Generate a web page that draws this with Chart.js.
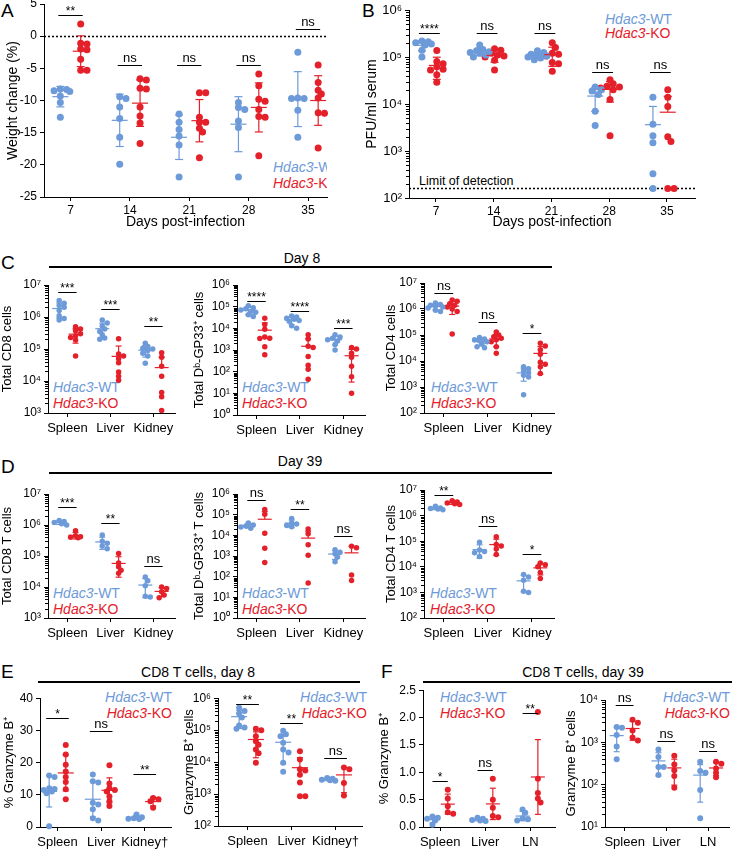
<!DOCTYPE html>
<html>
<head>
<meta charset="utf-8">
<script src="https://cdn.jsdelivr.net/npm/chart.js@4.4.1/dist/chart.umd.min.js"></script>
<style>
body{margin:0;width:732px;height:849px;position:relative;overflow:hidden;background:#fff;font-family:"Liberation Sans",Arial,sans-serif;color:#000}
canvas{position:absolute}
.t{position:absolute;white-space:nowrap;font-size:14px;line-height:16px}
.c{transform:translateX(-50%)}
.r{transform:translateX(-100%)}
.L{position:absolute;font-size:19px;line-height:20px}
.hr{position:absolute;height:0;border-top:2px solid #000}
.wt{color:#6d9ad8}.ko{color:#e4202a}
</style>
</head>
<body>
<div class="L" style="left:1px;top:1px">A</div>
<div class="L" style="left:362px;top:1px">B</div>
<div class="L" style="left:1px;top:253px">C</div>
<div class="L" style="left:1px;top:457px">D</div>
<div class="L" style="left:1px;top:662px">E</div>
<div class="L" style="left:381px;top:662px">F</div>

<div class="t c" style="left:302px;top:250px">Day 8</div>
<div class="hr" style="left:49px;width:503px;top:266px"></div>
<div class="t c" style="left:300px;top:453px">Day 39</div>
<div class="hr" style="left:49px;width:503px;top:472px"></div>
<div class="t c" style="left:198px;top:664px">CD8 T cells, day 8</div>
<div class="hr" style="left:38px;width:322px;top:681px"></div>
<div class="t c" style="left:583px;top:664px">CD8 T cells, day 39</div>
<div class="hr" style="left:423px;width:309px;top:681px"></div>

<div class="t" style="left:419px;top:173px;font-size:12.5px">Limit of detection</div>

<!-- legends -->
<div style="position:absolute;left:273px;top:159px;width:54px;height:34px;overflow:hidden">
  <div class="t wt" style="left:0;top:0"><i>Hdac3</i>-WT</div>
  <div class="t ko" style="left:0;top:16px"><i>Hdac3</i>-KO</div>
</div>
<div class="t wt" style="left:605px;top:12px;line-height:14px"><i>Hdac3</i>-WT</div>
<div class="t ko" style="left:605px;top:26px;line-height:14px"><i>Hdac3</i>-KO</div>

<div class="t wt" style="left:53px;top:379px"><i>Hdac3</i>-WT</div>
<div class="t ko" style="left:53px;top:395px"><i>Hdac3</i>-KO</div>
<div class="t wt" style="left:242px;top:379px"><i>Hdac3</i>-WT</div>
<div class="t ko" style="left:242px;top:395px"><i>Hdac3</i>-KO</div>
<div class="t wt" style="left:431px;top:379px"><i>Hdac3</i>-WT</div>
<div class="t ko" style="left:431px;top:395px"><i>Hdac3</i>-KO</div>

<div class="t wt" style="left:53px;top:585px"><i>Hdac3</i>-WT</div>
<div class="t ko" style="left:53px;top:601px"><i>Hdac3</i>-KO</div>
<div class="t wt" style="left:242px;top:585px"><i>Hdac3</i>-WT</div>
<div class="t ko" style="left:242px;top:601px"><i>Hdac3</i>-KO</div>
<div class="t wt" style="left:430px;top:585px"><i>Hdac3</i>-WT</div>
<div class="t ko" style="left:430px;top:601px"><i>Hdac3</i>-KO</div>

<div class="t wt r" style="left:172px;top:689px"><i>Hdac3</i>-WT</div>
<div class="t ko r" style="left:172px;top:705px"><i>Hdac3</i>-KO</div>
<div class="t wt r" style="left:367px;top:689px"><i>Hdac3</i>-WT</div>
<div class="t ko r" style="left:367px;top:705px"><i>Hdac3</i>-KO</div>
<div class="t wt" style="left:440px;top:689px"><i>Hdac3</i>-WT</div>
<div class="t ko" style="left:440px;top:705px"><i>Hdac3</i>-KO</div>
<div class="t wt r" style="left:730px;top:689px"><i>Hdac3</i>-WT</div>
<div class="t ko r" style="left:730px;top:705px"><i>Hdac3</i>-KO</div>

<script>
const WT_COLOR='#6d9ad8', KO_COLOR='#e4202a';

// A - weight change
const daysA=[7,14,21,28,35];
const weightWT=[
  [-8.2,-8.3,-8.5,-8.6,-9.3,-10.3,-12.6],
  [-9.4,-9.7,-11.0,-12.8,-15.7,-19.9],
  [-12.1,-13.4,-14.5,-15.5,-16.9,-21.9],
  [-10.3,-11.1,-11.4,-13.2,-14.2,-21.9],
  [-2.5,-9.6,-9.7,-9.7,-11.5,-15.7]
];
const weightKO=[
  [1.9,-1.1,-1.2,-2.0,-2.1,-3.6,-5.3,-5.3],
  [-6.6,-6.8,-8.1,-8.2,-11.0,-12.4,-13.5,-16.7],
  [-8.8,-8.8,-12.6,-13.4,-13.4,-14.3,-14.9,-18.9],
  [-5.9,-7.7,-9.8,-10.1,-11.4,-12.5,-12.6,-18.6],
  [-4.5,-7.2,-8.4,-9.0,-9.6,-11.9,-12.0,-17.4]
];
const sigA=["**","ns","ns","ns","ns"];
const sigAy=[3.3,-4.5,-4.5,-4.5,1.1];

// B - serum virus
const pfuWT=[
  [2.2e5,2.1e5,2.0e5,1.9e5,1.8e5,1.4e5,1.0e5],
  [1.8e5,1.45e5,1.35e5,1.3e5,1.25e5,1.2e5,1.1e5,1.0e5],
  [1.35e5,1.25e5,1.15e5,1.1e5,1.05e5,1.0e5,9.5e4,8.7e4],
  [2.3e4,2.0e4,1.9e4,1.6e4,7e3,3.5e3],
  [1.4e4,3.7e3,2.1e3,1.5e3,330,160]
];
const pfuKO=[
  [1.37e5,8e4,7.2e4,6.2e4,5.5e4,5.3e4,4.2e4,2.9e4],
  [1.5e5,1.4e5,1.2e5,1.1e5,1.05e5,1.0e5,8.5e4,5.3e4],
  [2.0e5,1.6e5,1.2e5,1.15e5,1.05e5,7.6e4,7.2e4,5.0e4],
  [3.3e4,2.7e4,2.4e4,2.3e4,2.2e4,2.0e4,1.25e4,2.1e3],
  [2.0e4,1.4e4,8.9e3,2.0e3,1.6e3,160,160]
];
const limitOfDetection=160;
const sigB=["****","ns","ns","ns","ns"];
const sigBy=[3.2e5,3.2e5,3.2e5,4.8e4,4.8e4];

// C - day 8
const organs=["Spleen","Liver","Kidney"];
const cd8D8WT=[[3.3e6,2.7e6,2.3e6,2.0e6,1.6e6,1.1e6,9e5,8e5],[8e5,6.5e5,5.2e5,4.2e5,3.5e5,2.8e5,2.2e5,2e5],[1.5e5,1.2e5,1.05e5,1.0e5,9e4,7.3e4,6e4,3.6e4]];
const cd8D8KO=[[5e5,4.2e5,3.7e5,3.0e5,2.6e5,2.3e5,1.9e5,6e4],[2.1e5,7e4,6e4,5e4,3.7e4,1.9e4,1.4e4,1.05e4],[7.7e4,5.5e4,2.9e4,1.4e4,4.4e3,3.2e3,1.2e3]];
const sigCd8D8=["***","***","**"], sigCd8D8y=[6.2e6,1.74e6,5.2e5];
const gp33D8WT=[[1.1e5,9e4,8e4,7e4,6e4,5.5e4,4.2e4,3.5e4],[3.7e4,3.3e4,2.9e4,2.6e4,2.3e4,2.1e4,1.3e4,1e4],[5e3,4e3,3.5e3,3e3,2.6e3,1.8e3,1e3]];
const gp33D8KO=[[2.9e4,1.5e4,9e3,4e3,3.5e3,3.4e3,1.4e3,6e2],[5e3,3.2e3,1.5e3,1.3e3,5e2,2e2,1.3e2,45],[1.3e3,1.1e3,7e2,4.6e2,1.8e2,58,10]];
const sigGp33D8=["****","****","***"], sigGp33D8y=[1.9e5,6.3e4,1e4];
const cd4D8WT=[[1.7e6,1.5e6,1.4e6,1.3e6,1.2e6,1.1e6,9e5,8e5],[8e4,7e4,6.5e4,6e4,5.5e4,4.5e4,3.5e4,3.2e4],[6e3,5e3,4.2e3,3.5e3,2.8e3,2.4e3,5e2]];
const cd4D8KO=[[2.2e6,2.0e6,1.6e6,1.4e6,1.2e6,1.0e6,8e5,1.1e5],[1.3e5,1e5,8.5e4,7.5e4,6.5e4,5.5e4,3.5e4,2e4],[4.8e4,3.8e4,2.7e4,1.8e4,9e3,7.5e3,6e3,3.3e3]];
const sigCd4D8=["ns","ns","*"], sigCd4D8y=[4.2e6,3.3e5,1.2e5];

// D - day 39
const cd8D39WT=[[1.4e6,1.3e6,1.2e6,1.1e6,1.0e6],[4.8e5,3e5,2.6e5,2.1e5,1.7e5],[2.1e4,1.6e4,1.1e4,5e3,4.8e3]];
const cd8D39KO=[[6.5e5,4.5e5,4.2e5,4.0e5,3.9e5],[1.2e5,6e4,4.5e4,3.5e4,2.8e4],[1.0e4,9e3,7e3,5.5e3,4.5e3]];
const sigCd8D39=["***","**","ns"], sigCd8D39y=[3.8e6,1.18e6,4.6e4];
const gp33D39WT=[[4e4,3.2e4,2.8e4,2.5e4,2.2e4],[6.5e4,4e4,3.5e4,3e4,2.6e4],[2e3,1.5e3,1.3e3,9e2,5.3e2]];
const gp33D39KO=[[1.8e5,1.05e5,1.25e4,2.4e3,480],[2e4,1.2e4,3.5e3,1.1e3,49],[3e3,2.5e3,120,65]];
const sigGp33D39=["ns","**","ns"], sigGp33D39y=[5.1e5,1.9e5,9.3e3];
const cd4D39WT=[[2.3e6,2.0e6,1.9e6,1.8e6,1.7e6],[9e4,4.5e4,4e4,3.5e4,2.5e4],[5e3,4e3,3e3,1.1e3,1e3]];
const cd4D39KO=[[3.8e6,3.4e6,3.1e6,2.9e6,2.7e6],[1.5e5,7.5e4,6.5e4,5e4,3e4],[1.4e4,1.2e4,1.0e4,6e3,3.5e3]];
const sigCd4D39=["**","ns","*"], sigCd4D39y=[6.4e6,3.9e5,3.2e4];

// E - granzyme B day 8
const organsE=["Spleen","Liver","Kidney†"];
const gzmbPctWT=[[16.0,15.5,12.0,11.8,11.5,11.0,10.5,0.2],[16.3,14.2,13.8,7.5,7.0,5.5,2.7,2.0],[3.9,3.0,2.7,2.6,2.5]];
const gzmbPctKO=[[25.5,22.5,19.3,17.2,15.5,14.0,11.7,8.6],[19.2,13.5,12.0,11.5,11.0,9.5,8.0,6.5],[9.0,8.6,8.0,6.0]];
const sigGzmbPct=["*","ns","**"], sigGzmbPcty=[33.8,29.8,16.4];
const gzmbCellsWT=[[5e5,4e5,3.3e5,2.5e5,1.4e5,1.2e5,1.1e5],[9.5e4,7.5e4,6.5e4,4e4,2.5e4,2e4,9.5e3,5e3],[3.2e3,3.0e3,2.8e3,2.7e3,2.6e3]];
const gzmbCellsKO=[[1.1e5,1e5,6.5e4,4.5e4,3.5e4,2.5e4,1.9e4,9.5e3],[2.2e4,1.2e4,6e3,5.5e3,4e3,2.3e3,8.5e2,8.5e2],[6.8e3,6e3,2.2e3,9e2]];
const sigGzmbCells=["**","**","ns"], sigGzmbCellsy=[6.5e5,1.66e5,1.3e4];

// F - granzyme B day 39
const organsF=["Spleen","Liver","LN"];
const gzmbPctD39WT=[[0.19,0.17,0.15,0.12,0.04],[0.17,0.15,0.13,0.12,0.11],[0.32,0.26,0.16,0.14,0.12]];
const gzmbPctD39KO=[[0.68,0.52,0.38,0.27,0.24],[0.88,0.5,0.35,0.2,0.18],[2.1,0.88,0.62,0.52,0.45]];
const sigGzmbPctD39=["*","ns","**"], sigGzmbPctD39y=[0.84,1.04,2.08];
const gzmbCellsD39WT=[[2.3e3,2.2e3,1.5e3,8e2,4e2],[6.8e2,4.5e2,2.6e2,2.6e2,1.7e2],[3.5e2,2.1e2,1.9e2,75,16]];
const gzmbCellsD39KO=[[3.4e3,2.9e3,1.9e3,1.3e3,1.1e3],[4.8e2,3e2,2.2e2,1.6e2,85],[3.5e2,3.1e2,2.4e2,1.9e2,1.5e2]];
const sigGzmbCellsD39=["ns","ns","ns"], sigGzmbCellsD39y=[7.6e3,1.1e3,6.2e2];

Chart.defaults.font.family="'Liberation Sans', Arial, sans-serif";
Chart.defaults.color='#000';

const SUP={'0':'⁰','1':'¹','2':'²','3':'³','4':'⁴','5':'⁵','6':'⁶','7':'⁷'};
const powLabel=v=>'10'+SUP[Math.round(Math.log10(v))];
const decades=(a,b)=>{const out=[];for(let e=Math.round(Math.log10(a));e<=Math.round(Math.log10(b));e++)out.push(10**e);return out;};

// spreads points of one group a little sideways (dots may still overlap, as in the figure)
function swarm(vals,cx,pxX,toPx,d){
  const placed=[],xs=new Array(vals.length);
  const order=vals.map((v,i)=>i).sort((a,b)=>vals[b]-vals[a]);
  order.forEach(i=>{
    const py=toPx(vals[i]);
    let best=0,bestGap=-1;
    for(let k=0;k<7;k++){
      const o=(k%2?1:-1)*Math.ceil(k/2)*d*0.45;
      const gap=placed.reduce((g,p)=>Math.min(g,Math.hypot(p[0]-o,p[1]-py)),1e9);
      if(gap>=d*0.7){best=o;bestGap=gap;break;}
      if(gap>bestGap){bestGap=gap;best=o;}
    }
    placed.push([best,py]);
    xs[i]=cx+best/pxX;
  });
  return xs;
}

function line(ctx,x1,y1,x2,y2){ctx.beginPath();ctx.moveTo(x1,y1);ctx.lineTo(x2,y2);ctx.stroke();}

// error bars (mean +/- SD), significance bars, reference line, log minor ticks
function makeExtras(p){
  return {
    id:'extras',
    beforeDatasetsDraw(chart){
      if(p.refY===undefined)return;
      const ctx=chart.ctx,a=chart.chartArea,py=Math.round(chart.scales.y.getPixelForValue(p.refY))+0.5;
      ctx.save();ctx.setLineDash([2,2]);ctx.lineWidth=1.5;ctx.strokeStyle='#000';
      line(ctx,a.left,py,a.right,py);ctx.restore();
    },
    afterDatasetsDraw(chart){
      const ctx=chart.ctx,x=chart.scales.x,y=chart.scales.y;
      const isLog=y.type==='logarithmic';
      ctx.save();
      [[p.wt,p.wtX,WT_COLOR],[p.ko,p.koX,KO_COLOR]].forEach(([groups,xs,col])=>{
        groups.forEach((vals,i)=>{
          const n=vals.length,m=vals.reduce((s,v)=>s+v,0)/n;
          const sd=Math.sqrt(vals.reduce((s,v)=>s+(v-m)**2,0)/(n-1));
          const px=x.getPixelForValue(xs[i]),pm=y.getPixelForValue(m);
          ctx.strokeStyle=col;ctx.lineWidth=1.2;
          line(ctx,px-p.mh,pm,px+p.mh,pm);
          const pt=y.getPixelForValue(Math.min(m+sd,y.max));
          line(ctx,px,pm,px,pt);line(ctx,px-p.cap,pt,px+p.cap,pt);
          if(!isLog||m-sd>0){
            const pb=y.getPixelForValue(Math.max(m-sd,y.min));
            line(ctx,px,pm,px,pb);
            if(m-sd>=y.min)line(ctx,px-p.cap,pb,px+p.cap,pb);
          }
        });
      });
      ctx.strokeStyle='#000';ctx.fillStyle='#000';ctx.lineWidth=1;
      ctx.textAlign='center';ctx.textBaseline='bottom';
      p.sig.forEach((s,i)=>{
        const x1=x.getPixelForValue(p.wtX[i])-p.half,x2=x.getPixelForValue(p.koX[i])+p.half;
        const py=Math.round(y.getPixelForValue(p.sigY[i]))+0.5;
        line(ctx,x1,py,x2,py);
        ctx.font=(s==='ns'?'13px':'12px')+" 'Liberation Sans', Arial, sans-serif";
        ctx.fillText(s,(x1+x2)/2,py-(s==='ns'?1:-2));
      });
      ctx.restore();
    },
    afterDraw(chart){
      const y=chart.scales.y;
      if(y.type!=='logarithmic')return;
      const ctx=chart.ctx,a=chart.chartArea;
      ctx.save();ctx.strokeStyle='#000';ctx.lineWidth=1;
      for(let e=Math.round(Math.log10(y.min));e<Math.round(Math.log10(y.max));e++)
        for(let k=2;k<10;k++){const py=Math.round(y.getPixelForValue(k*10**e))+0.5;line(ctx,a.left-3,py,a.left,py);}
      ctx.restore();
    }
  };
}

function makePanel(p){
  const [bx,by,bw,bh]=p.box,[l,t,r,b]=p.plot;
  const cv=document.createElement('canvas');
  cv.width=bw;cv.height=bh;cv.style.left=bx+'px';cv.style.top=by+'px';
  document.body.appendChild(cv);
  const log=!!p.log,f=v=>log?Math.log10(v):v;
  const H=b-t,pxX=(r-l)/(p.xMax-p.xMin);
  const toPx=v=>(f(v)-f(p.yMin))/(f(p.yMax)-f(p.yMin))*H;
  const datasets=[[p.wt,p.wtX,WT_COLOR],[p.ko,p.koX,KO_COLOR]].map(([groups,xs,col])=>({
    data:groups.flatMap((vals,i)=>{const sx=swarm(vals,xs[i],pxX,toPx,p.dot);return vals.map((v,j)=>({x:sx[j],y:v}));}),
    backgroundColor:col,borderWidth:0,pointRadius:p.dot/2,pointHoverRadius:p.dot/2,clip:false
  }));
  const grid={display:true,drawOnChartArea:false,drawTicks:true,tickLength:4,tickColor:'#000',tickWidth:1};
  const border={display:true,color:'#000',width:1};
  new Chart(cv,{
    type:'scatter',
    data:{datasets},
    options:{
      responsive:false,animation:false,events:[],devicePixelRatio:1,
      layout:{padding:{left:0,top:t-by,right:bx+bw-r,bottom:0}},
      plugins:{legend:{display:false},tooltip:{enabled:false}},
      scales:{
        x:{type:'linear',min:p.xMin,max:p.xMax,
          afterBuildTicks:s=>{s.ticks=p.xTicks.map(v=>({value:v}));},
          afterFit:s=>{s.height=by+bh-b;},
          ticks:{autoSkip:false,maxRotation:0,padding:p.xPad||4,font:{size:p.xFont||13},callback:(v,i)=>p.xLabels[i]},
          grid,border,
          title:{display:!!p.xTitle,text:p.xTitle||'',font:{size:14},padding:0}},
        y:{type:log?'logarithmic':'linear',min:p.yMin,max:p.yMax,
          afterBuildTicks:s=>{s.ticks=p.yTicks.map(v=>({value:v}));},
          afterFit:s=>{s.width=l-bx;},
          ticks:{autoSkip:false,padding:3,font:{size:p.yFont||12},callback:p.yFmt},
          grid,border,
          title:{display:true,text:p.yTitle,font:{size:p.titleSize||13},padding:0}}
      }
    },
    plugins:[makeExtras(p)]
  });
}

const cat=[1,2,3];
function organPanel(box,plot,wt,ko,yMin,yMax,yTitle,sig,sigY,labels,extra){
  const base={box,plot,wt,ko,log:true,yMin,yMax,yFmt:powLabel,yTitle,
    sig,sigY,xMin:0.55,xMax:3.5,xTicks:cat,xLabels:labels||organs,
    wtX:cat.map(i=>i-0.19),koX:cat.map(i=>i+0.19),dot:5.5,mh:7,cap:3,half:1};
  const p=Object.assign(base,extra||{});
  if(!p.yTicks)p.yTicks=decades(yMin,yMax);
  return p;
}

const panels=[
  {box:[5,-8,330,239],plot:[44,4,327,197],wt:weightWT,ko:weightKO,yMin:-25,yMax:5,yTicks:[-25,-20,-15,-10,-5,0,5],
   yFmt:v=>String(v),yTitle:'Weight change (%)',titleSize:14,refY:0,sig:sigA,sigY:sigAy,
   xMin:3.875,xMax:37.24,xTicks:daysA,xLabels:daysA.map(String),xFont:12,xPad:2,xTitle:'Days post-infection',
   wtX:daysA.map(d=>d-1.2),koX:daysA.map(d=>d+1.2),dot:7,mh:8,cap:4,half:2},
  {box:[364,-2,368,233],plot:[409,10,695,198],wt:pfuWT,ko:pfuKO,log:true,yMin:1e2,yMax:1e6,yTicks:decades(1e2,1e6),
   yFmt:powLabel,yFont:13,yTitle:'PFU/ml serum',titleSize:14,refY:limitOfDetection,sig:sigB,sigY:sigBy,
   xMin:3.73,xMax:38.4,xTicks:daysA,xLabels:daysA.map(String),xFont:12,xPad:2,xTitle:'Days post-infection',
   wtX:daysA.map(d=>d-1.7),koX:daysA.map(d=>d+0.1),dot:7,mh:8,cap:4,half:3},
  organPanel([0,270,180,170],[48,285,175,413],cd8D8WT,cd8D8KO,1e3,1e7,'Total CD8 cells',sigCd8D8,sigCd8D8y),
  organPanel([192,270,178,170],[237,285,365,415],gp33D8WT,gp33D8KO,1e0,1e6,'Total Dᵇ-GP33⁺ cells',sigGp33D8,sigGp33D8y),
  organPanel([384,270,176,170],[424,283,554,413],cd4D8WT,cd4D8KO,1e2,1e7,'Total CD4 cells',sigCd4D8,sigCd4D8y),
  organPanel([0,479,180,165],[48,494,175,618],cd8D39WT,cd8D39KO,1e3,1e7,'Total CD8 T cells',sigCd8D39,sigCd8D39y),
  organPanel([192,479,178,165],[237,494,365,618],gp33D39WT,gp33D39KO,1e0,1e6,'Total Dᵇ-GP33⁺ T cells',sigGp33D39,sigGp33D39y),
  organPanel([384,479,176,165],[424,490,554,618],cd4D39WT,cd4D39KO,1e2,1e7,'Total CD4 T cells',sigCd4D39,sigCd4D39y),
  organPanel([2,688,175,161],[40,698,171,827],gzmbPctWT,gzmbPctKO,0,40,'% Granzyme B⁺',sigGzmbPct,sigGzmbPcty,organsE,
   {log:false,yTicks:[0,10,20,30,40],yFmt:v=>String(v),xMin:0.6,xMax:3.6,dot:6,mh:8,half:3}),
  organPanel([182,688,185,161],[218,698,362,826],gzmbCellsWT,gzmbCellsKO,1e2,1e6,'Granzyme B⁺ cells',sigGzmbCells,sigGzmbCellsy,organsE,
   {xMin:0.33,xMax:3.6,dot:6,mh:8,half:3}),
  organPanel([377,680,183,169],[423,690,555,827],gzmbPctD39WT,gzmbPctD39KO,0,2.5,'% Granzyme B⁺',sigGzmbPctD39,sigGzmbPctD39y,organsF,
   {log:false,yTicks:[0,0.5,1,1.5,2,2.5],yFmt:v=>v.toFixed(1),xMin:0.62,xMax:3.55,wtX:cat.map(i=>i-0.17),koX:cat.map(i=>i+0.17),dot:6,half:0}),
  organPanel([564,688,168,161],[605,700,731,827],gzmbCellsD39WT,gzmbCellsD39KO,1e1,1e4,'Granzyme B⁺ cells',sigGzmbCellsD39,sigGzmbCellsD39y,organsF,
   {xMin:0.53,xMax:3.5,dot:6,half:1})
];
panels.forEach(makePanel);
</script>
</body>
</html>
